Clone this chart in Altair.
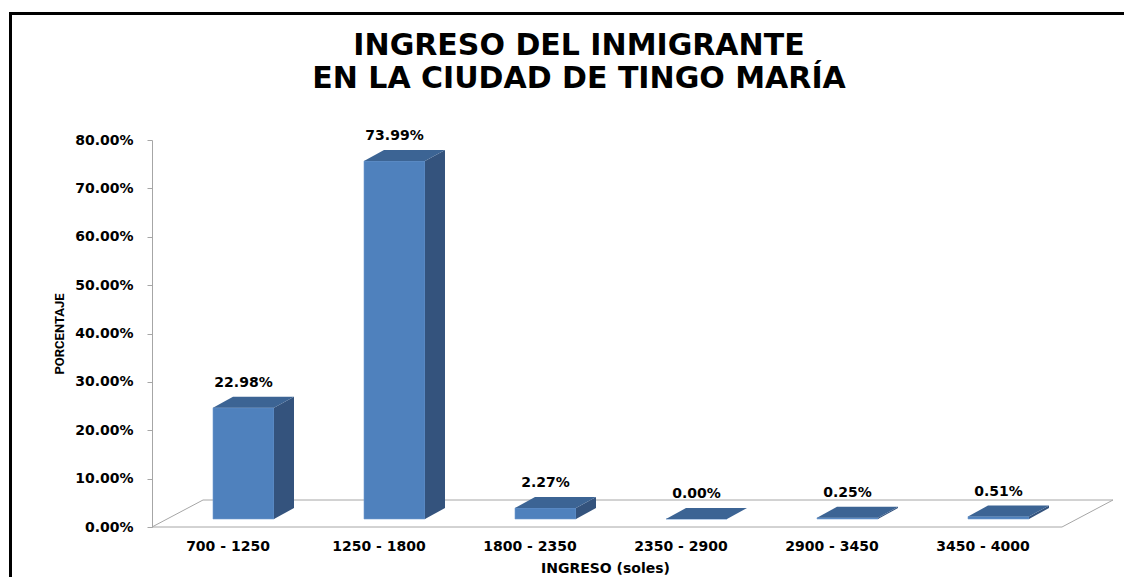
import json
import altair as alt
import pandas as pd

# ---------------- data ----------------
categories = ["700 - 1250", "1250 - 1800", "1800 - 2350", "2350 - 2900", "2900 - 3450", "3450 - 4000"]
values = [0.2298, 0.7399, 0.0227, 0.0000, 0.0025, 0.0051]
title_lines = ["INGRESO DEL INMIGRANTE", "EN LA CIUDAD DE TINGO MARÍA"]
y_ticks = [0.0, 0.1, 0.2, 0.3, 0.4, 0.5, 0.6, 0.7, 0.8]
x_title = "INGRESO (soles)"
y_title = "PORCENTAJE"

# ---------------- geometry / style ----------------
PLOT_W, PLOT_H = 906, 387
N = len(categories)
Y_MAX = 0.8
ux = N / PLOT_W          # data units per pixel (x)
uy = Y_MAX / PLOT_H      # data units per pixel (y)

FRONT_OFF = 61 * ux
FRONT_W = 61 * ux
BASE = 8 * uy
DDX = 20 * ux
DDY = 11 * uy
FLOOR_EXT = 4 * ux
FLOOR_DX = 51 * ux
FLOOR_DY = 27 * uy

C_FRONT = "#4F81BD"
C_TOP = "#3C6494"
C_SIDE = "#34537D"
C_GRID = "#A6A6A6"
FONT = "DejaVu Sans"

front_rows, side_rows, top_rows, label_rows = [], [], [], []
for i, (c, v) in enumerate(zip(categories, values)):
    xl = i + FRONT_OFF
    xr = xl + FRONT_W
    front_rows.append({"cat": c, "x": xl, "x2": xr, "y": BASE, "y2": BASE + v})
    side_rows.append({"cat": c, "x": xr, "lo": BASE, "hi": BASE + v})
    side_rows.append({"cat": c, "x": xr + DDX, "lo": BASE + DDY, "hi": BASE + v + DDY})
    top_rows.append({"cat": c, "y": BASE + v, "xl": xl, "xr": xr})
    top_rows.append({"cat": c, "y": BASE + v + DDY, "xl": xl + DDX, "xr": xr + DDX})
    label_rows.append({"cat": c, "x": (xl + xr) / 2, "y": BASE + v, "v": v})

floor_rows = [
    {"o": 0, "x": 0.0, "y": 0.0},
    {"o": 1, "x": N + FLOOR_EXT, "y": 0.0},
    {"o": 2, "x": N + FLOOR_EXT + FLOOR_DX, "y": FLOOR_DY},
    {"o": 3, "x": FLOOR_DX, "y": FLOOR_DY},
    {"o": 4, "x": 0.0, "y": 0.0},
]

xscale = alt.Scale(domain=[0, N], nice=False, zero=False)
yscale = alt.Scale(domain=[0, Y_MAX], nice=False)

label_expr = f"{json.dumps(categories)}[floor(datum.value)]"

x_axis = alt.Axis(
    values=[i + 0.5 for i in range(N)],
    labelExpr=label_expr,
    domain=False, ticks=False, grid=False,
    labelFont=FONT, labelFontSize=14, labelFontWeight="bold", labelColor="black",
    labelPadding=12,
    title=x_title, titleFont=FONT, titleFontSize=14, titleFontWeight="bold",
    titleColor="black", titlePadding=8,
)
y_axis = alt.Axis(
    values=y_ticks, format=".2%", grid=False,
    domainColor=C_GRID, tickColor=C_GRID, tickSize=5,
    labelFont=FONT, labelFontSize=14, labelFontWeight="bold", labelColor="black",
    labelPadding=14,
    title=y_title, titleFont="Roboto", titleFontSize=13,
    titleFontWeight="bold", titleColor="black", titlePadding=8,
)

floor = alt.Chart(pd.DataFrame(floor_rows)).mark_line(
    color=C_GRID, strokeWidth=1
).encode(
    x=alt.X("x:Q", scale=xscale, axis=x_axis),
    y=alt.Y("y:Q", scale=yscale, axis=y_axis),
    order="o:Q",
)

front = alt.Chart(pd.DataFrame(front_rows)).mark_rect(
    color=C_FRONT, stroke="#6F9BD0", strokeWidth=0.6
).encode(
    x=alt.X("x:Q", scale=xscale), x2="x2:Q",
    y=alt.Y("y:Q", scale=yscale), y2="y2:Q",
)

side = alt.Chart(pd.DataFrame(side_rows)).mark_area(
    orient="vertical", color=C_SIDE
).encode(
    x=alt.X("x:Q", scale=xscale),
    y=alt.Y("lo:Q", scale=yscale), y2="hi:Q",
    detail="cat:N",
)

top = alt.Chart(pd.DataFrame(top_rows)).mark_area(
    orient="horizontal", color=C_TOP
).encode(
    y=alt.Y("y:Q", scale=yscale),
    x=alt.X("xl:Q", scale=xscale), x2="xr:Q",
    detail="cat:N",
)

labels = alt.Chart(pd.DataFrame(label_rows)).mark_text(
    font=FONT, fontSize=14, fontWeight="bold", color="black",
    baseline="alphabetic", dy=-21,
).encode(
    x=alt.X("x:Q", scale=xscale),
    y=alt.Y("y:Q", scale=yscale),
    text=alt.Text("v:Q", format=".2%"),
)

one = pd.DataFrame({"k": [0]})
frame = alt.Chart(one).mark_rect(
    fill="white", fillOpacity=0, stroke="black", strokeWidth=3
).encode(
    x=alt.value(-141.5), x2=alt.value(1000),
    y=alt.value(-126.5), y2=alt.value(470),
)

title_layers = []
for line, ypix in zip(title_lines, [-85, -52]):
    title_layers.append(
        alt.Chart(one).mark_text(
            text=line, font=FONT, fontSize=30, fontWeight="bold", color="black",
            baseline="alphabetic", align="center",
        ).encode(x=alt.value(427), y=alt.value(ypix))
    )

chart = alt.layer(floor, front, side, top, labels, frame, *title_layers).properties(
    width=PLOT_W, height=PLOT_H,
    background="white",
    autosize=alt.AutoSizeParams(type="none"),
    padding={"left": 144, "top": 132, "right": 66, "bottom": 50},
).configure_view(stroke=None)

chart.save("out.html", embed_options={"renderer": "svg", "actions": False})
